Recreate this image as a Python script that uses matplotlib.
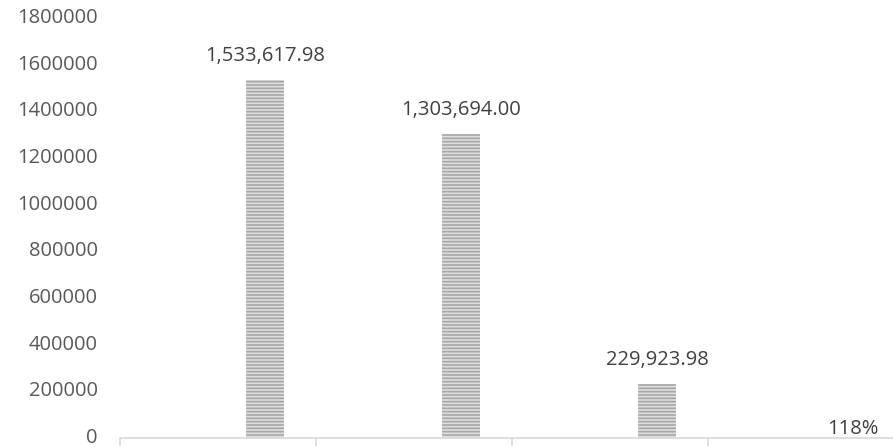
import matplotlib.pyplot as plt
import matplotlib.transforms as mtransforms

plt.rcParams['font.family'] = ['Open Sans', 'DejaVu Sans']
plt.rcParams['hatch.linewidth'] = 1.2

# values
categories = ['', '', '', '']
values = [1533617.98, 1303694.00, 229923.98, 1.18]
labels = ['1,533,617.98', '1,303,694.00', '229,923.98', '118%']
yticks = [0, 200000, 400000, 600000, 800000, 1000000, 1200000, 1400000, 1600000, 1800000]

fig = plt.figure(figsize=(8.93, 4.47), dpi=100)
ax = fig.add_axes([120 / 893, 1 - 438 / 447, 773 / 893, 420 / 447])

pos = [i + 0.24 for i in range(len(values))]
bars = ax.bar(pos, values, width=0.19, color='#dedede', edgecolor='#a8a8a8',
              linewidth=0, hatch='-----')

for i, (b, lab) in enumerate(zip(bars, labels)):
    off = 9 if i == len(values) - 1 else 24
    ax.annotate(lab, (b.get_x() + b.get_width() / 2, b.get_height()),
                xytext=(0, off), textcoords='offset pixels',
                ha='center', va='center', fontsize=14.5, color='#404040')

ax.set_xlim(-0.5, -0.5 + 773 / 196)
ax.set_ylim(0, 1800000)
ax.set_yticks(yticks)
ax.set_yticklabels([str(v) for v in yticks])
ax.set_xticks([-0.5, 0.5, 1.5, 2.5])
ax.set_xticklabels(categories)

for s in ['top', 'right', 'left']:
    ax.spines[s].set_visible(False)
ax.spines['bottom'].set_color('#d9d9d9')
ax.spines['bottom'].set_linewidth(1.2)
ax.tick_params(axis='x', length=6, width=1.2, color='#d9d9d9')
ax.tick_params(axis='y', length=0, pad=16, labelsize=14.5, labelcolor='#595959')

# nudge y labels up a little, like the original
shift = mtransforms.ScaledTranslation(0, 2.5 / 100, fig.dpi_scale_trans)
for t in ax.get_yticklabels():
    t.set_transform(t.get_transform() + shift)

fig.savefig('out.png', dpi=100)
